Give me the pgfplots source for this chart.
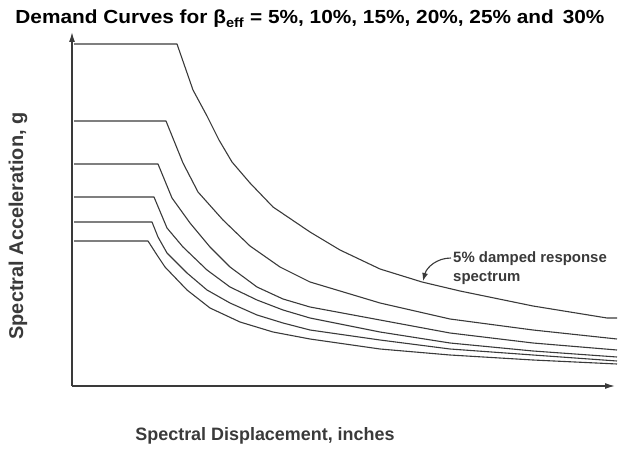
\documentclass[border=0pt]{standalone}
\usepackage{pgfplots}
\pgfplotsset{compat=1.18}
\usepackage{fontspec}
\setmainfont{Liberation Sans}
\newfontfamily\titlefont[FakeStretch=1.1]{Liberation Sans}
\usetikzlibrary{arrows.meta}
\definecolor{ink}{HTML}{3A3A3A}
\pgfplotsset{curve/.style={ink, line width=1.1bp, no markers, line join=round}}
\begin{document}
\begin{tikzpicture}
\path[use as bounding box] (-72bp,-64bp) rectangle (546bp,386bp);
\begin{axis}[
  scale only axis, width=543bp, height=354bp,
  xmin=0, xmax=543, ymin=0, ymax=354,
  axis lines=left,
  axis line style={ink, line width=1.3bp},
  x axis line style={-{Latex[length=10bp,width=6bp]}},
  y axis line style={-{Latex[length=10bp,width=6bp]}},
  xtick=\empty, ytick=\empty,
  clip=false,
]
% 5%
\addplot[curve] coordinates {(2,342) (105,342) (121,296) (135,270) (147,246) (160,224) (178,203) (201,179) (238,154) (268,136) (308,117) (350,104) (388,95) (461,80) (535,68) (545,68)};
% 10%
\addplot[curve] coordinates {(2,265) (94,265) (111,223) (126,194) (151,166) (178,140) (208,119) (238,104) (308,83) (378,67) (461,56) (545,47)};
% 15%
\addplot[curve] coordinates {(2,222) (86,222) (100,188) (118,163) (138,139) (158,119) (185,99) (211,87) (238,79) (308,66) (378,53) (461,43) (545,36)};
% 20%
\addplot[curve] coordinates {(2,189) (82,189) (95,158) (111,139) (135,116) (158,99) (185,86) (211,76) (238,68) (308,54) (378,43) (461,35) (545,29)};
% 25%
\addplot[curve] coordinates {(2,164) (80,164) (86,149) (95,133) (115,113) (135,96) (158,83) (185,71) (211,63) (238,56) (308,46) (378,37) (461,31) (545,25)};
% 30%
\addplot[curve] coordinates {(2,145) (76,145) (85,131) (93,119) (115,96) (138,78) (168,64) (201,54) (238,47) (308,37) (378,31) (461,26) (545,22)};
\draw[ink, line width=1.1bp, -{Latex[length=8bp,width=6bp]}] (axis cs:379,128) to[out=180,in=75] (axis cs:351,105);
\node[anchor=west, font=\bfseries\fontsize{15}{19}\selectfont, text=ink, align=left, inner sep=0pt] at (axis cs:381,118) {5\% damped response\\spectrum};
\end{axis}
\node[font=\titlefont\bfseries\fontsize{19}{22}\selectfont, text=black] at (238bp,367bp) {Demand Curves for β\textsubscript{eff} = 5\%, 10\%, 15\%, 20\%, 25\% and\, 30\%};
\node[font=\bfseries\fontsize{20}{23}\selectfont, text=ink, rotate=90] at (-54bp,160bp) {Spectral Acceleration, g};
\node[font=\bfseries\fontsize{18}{21}\selectfont, text=ink] at (193bp,-50bp) {Spectral Displacement, inches};
\end{tikzpicture}
\end{document}
